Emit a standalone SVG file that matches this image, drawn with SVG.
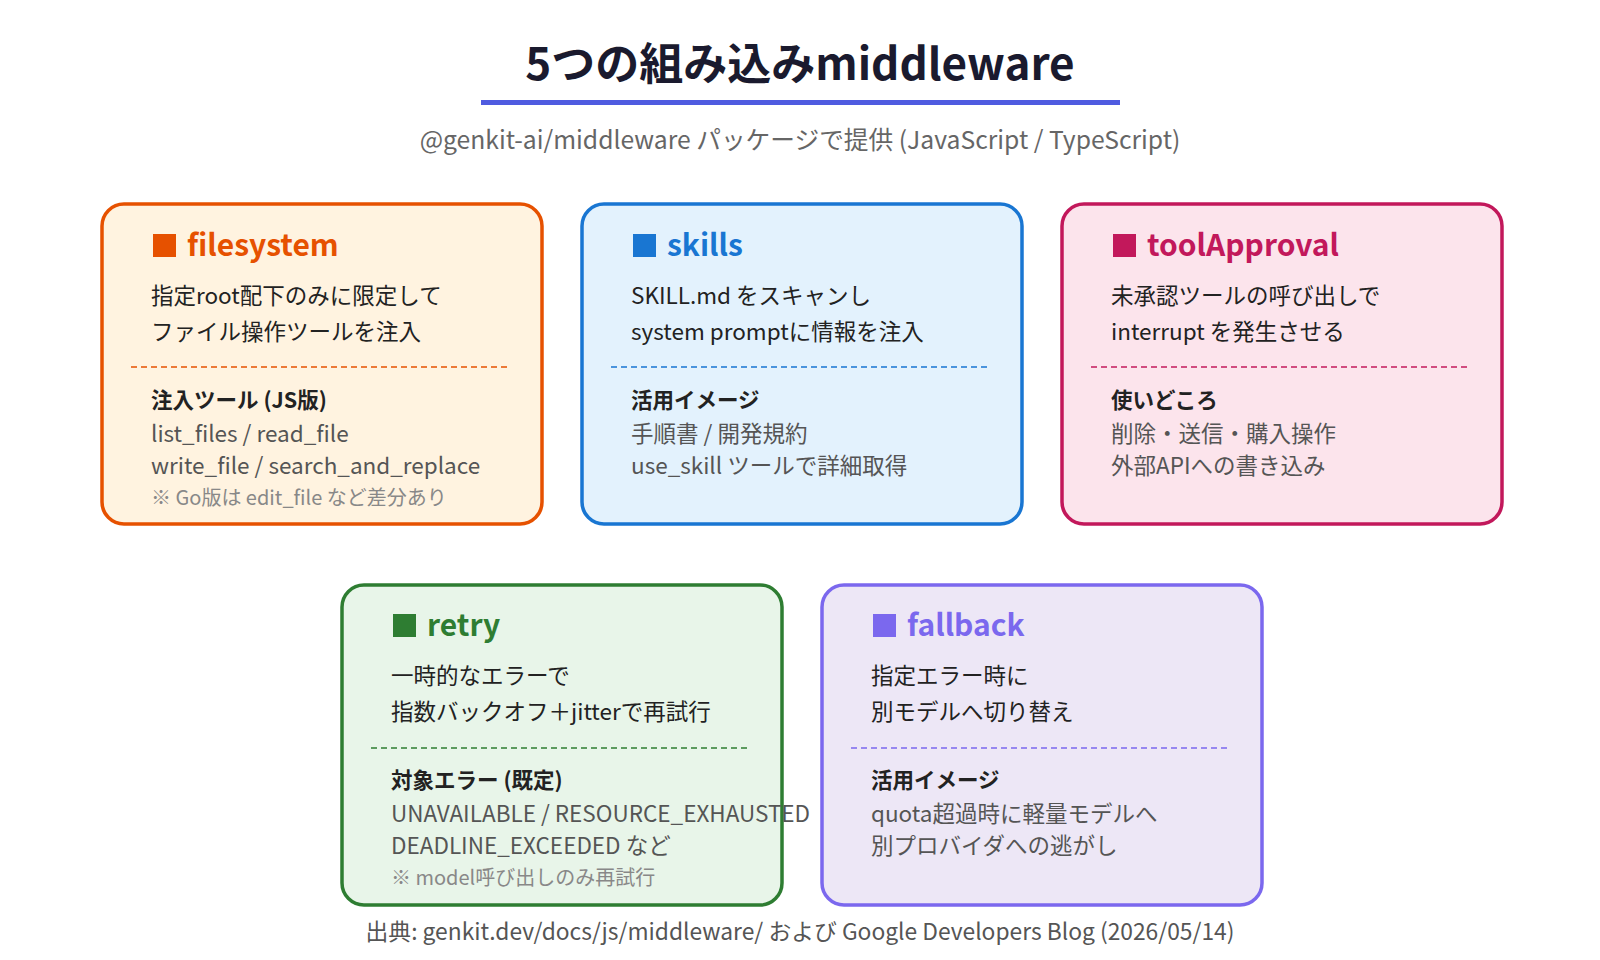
<svg xmlns="http://www.w3.org/2000/svg" width="1600" height="960" viewBox="0 0 1600 960">
<style>
text{font-family:"Noto Sans CJK JP","Noto Sans",sans-serif}
.t{font-size:44px;font-weight:700;fill:#1a1a2e;text-anchor:middle}
.sub{font-size:24.7px;fill:#666;text-anchor:middle}
.h{font-size:30px;font-weight:700}
.b{font-size:22.5px;fill:#222}
.s{font-size:21.5px;font-weight:700;fill:#222}
.i{font-size:22.5px;fill:#555}
.n{font-size:20px;fill:#888}
.box{stroke-width:3.5}
.dash{stroke-width:1.5;stroke-dasharray:6 4}
.f{font-size:22.8px;fill:#555;text-anchor:middle}
</style>
<text class="t" x="800" y="80">5つの組み込みmiddleware</text>
<rect x="481" y="100" width="639" height="5" fill="#4f5be0"/>
<text class="sub" x="800" y="149">@genkit-ai/middleware パッケージで提供 (JavaScript / TypeScript)</text>

<g id="filesystem">
<rect class="box" x="102" y="204" width="440" height="320" rx="22" fill="#fff3e0" stroke="#e65100"/>
<rect x="153" y="234" width="23" height="23" fill="#e65100"/>
<text class="h" x="187" y="256" fill="#e65100">filesystem</text>
<text class="b" x="151" y="304">指定root配下のみに限定して</text>
<text class="b" x="151" y="340">ファイル操作ツールを注入</text>
<line class="dash" x1="131" y1="367" x2="507" y2="367" stroke="#e65100"/>
<text class="s" x="151" y="408">注入ツール (JS版)</text>
<text class="i" x="151" y="442">list_files / read_file</text>
<text class="i" x="151" y="474">write_file / search_and_replace</text>
<text class="n" x="151" y="505">※ Go版は edit_file など差分あり</text>
</g>

<g id="skills">
<rect class="box" x="582" y="204" width="440" height="320" rx="22" fill="#e3f2fd" stroke="#1976d2"/>
<rect x="633" y="234" width="23" height="23" fill="#1976d2"/>
<text class="h" x="667" y="256" fill="#1976d2">skills</text>
<text class="b" x="631" y="304">SKILL.md をスキャンし</text>
<text class="b" x="631" y="340">system promptに情報を注入</text>
<line class="dash" x1="611" y1="367" x2="987" y2="367" stroke="#1976d2"/>
<text class="s" x="631" y="408">活用イメージ</text>
<text class="i" x="631" y="442">手順書 / 開発規約</text>
<text class="i" x="631" y="474">use_skill ツールで詳細取得</text>
</g>

<g id="toolApproval">
<rect class="box" x="1062" y="204" width="440" height="320" rx="22" fill="#fce4ec" stroke="#c2185b"/>
<rect x="1113" y="234" width="23" height="23" fill="#c2185b"/>
<text class="h" x="1147" y="256" fill="#c2185b">toolApproval</text>
<text class="b" x="1111" y="304">未承認ツールの呼び出しで</text>
<text class="b" x="1111" y="340">interrupt を発生させる</text>
<line class="dash" x1="1091" y1="367" x2="1467" y2="367" stroke="#c2185b"/>
<text class="s" x="1111" y="408">使いどころ</text>
<text class="i" x="1111" y="442">削除・送信・購入操作</text>
<text class="i" x="1111" y="474">外部APIへの書き込み</text>
</g>

<g id="retry">
<rect class="box" x="342" y="585" width="440" height="320" rx="22" fill="#e8f5e9" stroke="#2e7d32"/>
<rect x="393" y="614" width="23" height="23" fill="#2e7d32"/>
<text class="h" x="427" y="636" fill="#2e7d32">retry</text>
<text class="b" x="391" y="684">一時的なエラーで</text>
<text class="b" x="391" y="720">指数バックオフ＋jitterで再試行</text>
<line class="dash" x1="371" y1="748" x2="747" y2="748" stroke="#2e7d32"/>
<text class="s" x="391" y="788">対象エラー (既定)</text>
<text class="i" x="391" y="822">UNAVAILABLE / RESOURCE_EXHAUSTED</text>
<text class="i" x="391" y="854">DEADLINE_EXCEEDED など</text>
<text class="n" x="391" y="885">※ model呼び出しのみ再試行</text>
</g>

<g id="fallback">
<rect class="box" x="822" y="585" width="440" height="320" rx="22" fill="#ede7f6" stroke="#7b68ee"/>
<rect x="873" y="614" width="23" height="23" fill="#7b68ee"/>
<text class="h" x="907" y="636" fill="#7b68ee">fallback</text>
<text class="b" x="871" y="684">指定エラー時に</text>
<text class="b" x="871" y="720">別モデルへ切り替え</text>
<line class="dash" x1="851" y1="748" x2="1227" y2="748" stroke="#7b68ee"/>
<text class="s" x="871" y="788">活用イメージ</text>
<text class="i" x="871" y="822">quota超過時に軽量モデルへ</text>
<text class="i" x="871" y="854">別プロバイダへの逃がし</text>
</g>

<g id="connectors"></g>
<text class="f" x="800" y="940">出典: genkit.dev/docs/js/middleware/ および Google Developers Blog (2026/05/14)</text>
</svg>
